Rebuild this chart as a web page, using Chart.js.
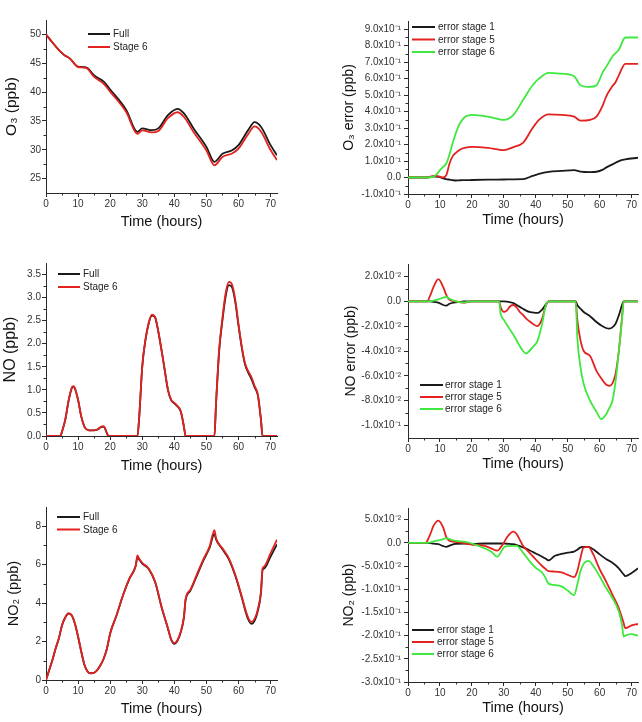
<!DOCTYPE html>
<html>
<head>
<meta charset="utf-8">
<script src="https://cdn.jsdelivr.net/npm/chart.js@4/dist/chart.umd.min.js"></script>
<style>
html,body{margin:0;padding:0;background:#fff;}
#wrap{position:relative;width:642px;height:722px;overflow:hidden;}
canvas{position:absolute;}
</style>
</head>
<body>
<div id="wrap">
<canvas id="c1" width="321" height="240" style="left:0;top:0"></canvas>
<canvas id="c2" width="321" height="240" style="left:321px;top:0"></canvas>
<canvas id="c3" width="321" height="240" style="left:0;top:240px"></canvas>
<canvas id="c4" width="321" height="240" style="left:321px;top:240px"></canvas>
<canvas id="c5" width="321" height="242" style="left:0;top:480px"></canvas>
<canvas id="c6" width="321" height="242" style="left:321px;top:480px"></canvas>
</div>
<script>
// ---------------- DATA ----------------
const xTicks = [0, 10, 20, 30, 40, 50, 60, 70];
const xTickLabels = ['0', '10', '20', '30', '40', '50', '60', '70'];

// Panel 1: O3
const o3Hours  = [0, 2, 4.5, 5.5, 7.5, 10, 12.5, 15, 18, 20, 25, 28.5, 30, 33, 35, 38, 41, 43, 46, 50, 52.5, 55, 58, 60, 63, 65, 67, 70, 72];
const o3Full   = [50, 48.6, 47.0, 46.5, 45.8, 44.4, 44.3, 42.9, 41.8, 40.45, 36.9, 33.1, 33.7, 33.4, 33.7, 36.0, 37.1, 36.3, 33.7, 30.5, 27.9, 29.3, 29.9, 30.8, 33.4, 34.8, 34.0, 30.8, 29.05];
const o3Stage6 = [50, 48.6, 47.0, 46.5, 45.8, 44.35, 44.2, 42.63, 41.43, 40.07, 36.53, 32.75, 33.35, 33.02, 33.26, 35.47, 36.5, 35.68, 33.07, 29.88, 27.3, 28.75, 29.35, 30.2, 32.69, 34.04, 33.17, 29.95, 28.2];
const o3Ticks = [25, 30, 35, 40, 45, 50];
const o3TickLabels = ['25', '30', '35', '40', '45', '50'];

// Panel 2: O3 error
const o3ErrHours = [0, 6, 8, 9, 10, 11, 12, 13, 14, 15, 16, 17, 18, 20, 25, 30, 33, 36, 39, 41, 44, 48, 52, 54, 57, 59, 61, 62, 64, 65, 66, 68, 72];
const o3ErrStage1 = [0, 0, 0.005, 0.005, 0.002, -0.005, -0.01, -0.013, -0.016, -0.018, -0.017, -0.016, -0.016, -0.015, -0.013, -0.012, -0.011, -0.01, 0.01, 0.022, 0.034, 0.04, 0.045, 0.036, 0.033, 0.035, 0.048, 0.06, 0.08, 0.09, 0.1, 0.11, 0.12];
const o3ErrStage5 = [0, 0, 0.01, 0.01, 0.005, 0, 0.014, 0.085, 0.13, 0.15, 0.165, 0.176, 0.182, 0.186, 0.18, 0.166, 0.185, 0.21, 0.3, 0.35, 0.383, 0.38, 0.37, 0.345, 0.35, 0.37, 0.44, 0.49, 0.555, 0.58, 0.62, 0.69, 0.69];
const o3ErrStage6 = [0, 0, 0.005, 0.02, 0.045, 0.065, 0.085, 0.14, 0.21, 0.27, 0.32, 0.35, 0.37, 0.38, 0.37, 0.35, 0.38, 0.47, 0.56, 0.6, 0.635, 0.63, 0.615, 0.56, 0.55, 0.56, 0.64, 0.67, 0.735, 0.755, 0.775, 0.85, 0.85];
const o3ErrTicks = [-0.1, 0, 0.1, 0.2, 0.3, 0.4, 0.5, 0.6, 0.7, 0.8, 0.9];
const o3ErrTickLabels = ['-1.0x10⁻¹', '0.0', '1.0x10⁻¹', '2.0x10⁻¹', '3.0x10⁻¹', '4.0x10⁻¹', '5.0x10⁻¹', '6.0x10⁻¹', '7.0x10⁻¹', '8.0x10⁻¹', '9.0x10⁻¹'];

// Panel 3: NO
const noHours  = [0, 4.5, 5, 6, 7, 8, 8.5, 9, 10, 11, 12, 13, 14, 16, 17.5, 18, 19, 19.5, 28.5, 29, 30, 31, 32, 33, 34, 35, 36, 37, 38, 39, 40, 41, 42, 43, 43.5, 52.5, 53, 54, 55, 56, 57, 58, 59, 60, 61, 62, 63, 64, 65, 66, 67, 67.5, 72];
const noFull   = [0, 0, 0.1, 0.35, 0.75, 1.03, 1.07, 1.03, 0.78, 0.42, 0.2, 0.13, 0.12, 0.14, 0.2, 0.2, 0.06, 0, 0, 0.35, 1.5, 2.08, 2.44, 2.61, 2.57, 2.26, 1.86, 1.43, 1.0, 0.78, 0.71, 0.64, 0.53, 0.2, 0, 0, 0.7, 1.86, 2.51, 3.03, 3.27, 3.22, 2.9, 2.39, 1.92, 1.56, 1.38, 1.24, 1.06, 0.89, 0.35, 0, 0];
const noStage6 = [0, 0, 0.1, 0.35, 0.75, 1.04, 1.08, 1.04, 0.78, 0.42, 0.2, 0.13, 0.12, 0.14, 0.21, 0.21, 0.06, 0, 0, 0.36, 1.51, 2.09, 2.45, 2.63, 2.58, 2.27, 1.87, 1.44, 1.01, 0.79, 0.72, 0.65, 0.54, 0.2, 0, 0, 0.72, 1.9, 2.56, 3.1, 3.34, 3.28, 2.95, 2.43, 1.95, 1.59, 1.41, 1.28, 1.09, 0.91, 0.36, 0, 0];
const noTicks = [0, 0.5, 1, 1.5, 2, 2.5, 3, 3.5];
const noTickLabels = ['0.0', '0.5', '1.0', '1.5', '2.0', '2.5', '3.0', '3.5'];

// Panel 4: NO error
const noErrHours = [0, 6, 7, 8, 9.5, 11, 12, 13, 15, 17, 18, 19, 20, 28.5, 29, 30, 31, 32, 33, 34, 35, 36, 37, 38, 39, 40.5, 42, 43, 44, 52.5, 53, 54, 55, 57, 59, 60.5, 62, 63, 64, 65, 66, 67, 67.5, 72];
const noErrStage1 = [0, 0, 0, -0.0005, -0.001, -0.003, -0.0035, -0.002, -0.0008, -0.0003, 0, 0, 0, 0, 0, 0, -0.0003, -0.0008, -0.0015, -0.003, -0.0045, -0.006, -0.0075, -0.0086, -0.009, -0.0094, -0.0067, -0.003, 0, 0, -0.003, -0.006, -0.0086, -0.012, -0.0167, -0.0195, -0.0215, -0.022, -0.021, -0.018, -0.0113, -0.003, 0, 0];
const noErrStage5 = [0, 0, 0.005, 0.0116, 0.0178, 0.0116, 0.005, 0.0013, 0, -0.001, -0.001, -0.0005, 0, 0, -0.0046, -0.0086, -0.0073, -0.004, -0.003, -0.005, -0.0086, -0.011, -0.014, -0.016, -0.018, -0.020, -0.014, -0.0046, 0, 0, -0.015, -0.0315, -0.04, -0.044, -0.056, -0.062, -0.067, -0.068, -0.066, -0.058, -0.04, -0.013, 0, 0];
const noErrStage6 = [0, 0, 0, 0.0005, 0.0015, 0.003, 0.0035, 0.002, 0, -0.0008, -0.0008, -0.0003, 0, 0, -0.01, -0.015, -0.019, -0.023, -0.027, -0.0315, -0.036, -0.04, -0.042, -0.04, -0.037, -0.032, -0.018, -0.0046, 0, 0, -0.029, -0.053, -0.0665, -0.08, -0.089, -0.0948, -0.091, -0.086, -0.08, -0.064, -0.04, -0.015, 0, 0];
const noErrTicks = [-0.1, -0.08, -0.06, -0.04, -0.02, 0, 0.02];
const noErrTickLabels = ['-1.0x10⁻¹', '-8.0x10⁻²', '-6.0x10⁻²', '-4.0x10⁻²', '-2.0x10⁻²', '0.0', '2.0x10⁻²'];

// Panel 5: NO2
const no2Hours  = [0, 1, 2, 3, 4, 5, 6, 7, 8, 9, 10, 11, 12, 13, 14, 15, 16, 17, 18, 19, 20, 22, 24, 26, 28, 28.5, 29, 30, 32, 34, 36, 38, 39, 40, 41, 42, 43, 43.5, 45, 47, 49, 51, 52.5, 53, 55, 57, 59, 61, 62, 63, 64, 65, 66, 67, 67.5, 68, 70, 72];
const no2Full   = [0, 0.52, 1.04, 1.64, 2.16, 2.85, 3.25, 3.46, 3.37, 2.94, 2.25, 1.47, 0.78, 0.43, 0.35, 0.38, 0.52, 0.78, 1.12, 1.64, 2.42, 3.37, 4.41, 5.27, 5.96, 6.4, 6.28, 6.06, 5.78, 5.1, 3.8, 2.68, 2.1, 1.88, 2.05, 2.48, 3.26, 4.15, 4.65, 5.42, 6.2, 6.88, 7.6, 7.32, 6.8, 6.28, 5.42, 4.3, 3.68, 3.16, 2.92, 3.08, 3.58, 4.52, 5.72, 5.8, 6.42, 7.06];
const no2Stage6 = [0, 0.52, 1.04, 1.64, 2.16, 2.85, 3.25, 3.46, 3.37, 2.94, 2.25, 1.47, 0.78, 0.43, 0.35, 0.38, 0.52, 0.78, 1.12, 1.64, 2.42, 3.37, 4.41, 5.27, 5.97, 6.48, 6.32, 6.1, 5.8, 5.12, 3.82, 2.7, 2.12, 1.92, 2.08, 2.52, 3.3, 4.2, 4.7, 5.48, 6.26, 6.95, 7.8, 7.38, 6.85, 6.33, 5.47, 4.36, 3.75, 3.25, 3.02, 3.18, 3.66, 4.6, 5.8, 5.9, 6.6, 7.3];
const no2Ticks = [0, 2, 4, 6, 8];
const no2TickLabels = ['0', '2', '4', '6', '8'];

// Panel 6: NO2 error
const no2ErrHours = [0, 5.5, 6, 7, 8, 9.5, 11, 12, 13, 15, 18, 20, 22, 24, 26, 28, 29, 30, 31, 33, 34, 36, 38, 40, 42, 43, 44, 46, 48, 50, 52, 53, 54, 55, 56.5, 58, 60, 62, 64, 66, 67, 67.5, 68, 70, 72];
const no2ErrStage1 = [0, 0, 0, -0.0005, -0.002, -0.003, -0.007, -0.0087, -0.006, -0.002, -0.0015, -0.003, -0.002, -0.0015, -0.0015, -0.0015, -0.0015, -0.0015, -0.002, -0.003, -0.005, -0.01, -0.016, -0.023, -0.03, -0.034, -0.038, -0.028, -0.024, -0.021, -0.019, -0.015, -0.01, -0.009, -0.0087, -0.014, -0.025, -0.035, -0.043, -0.055, -0.064, -0.068, -0.072, -0.065, -0.055];
const no2ErrStage5 = [0, 0, 0.004, 0.019, 0.037, 0.048, 0.033, 0.012, 0.004, 0.002, -0.0015, -0.004, -0.005, -0.0065, -0.012, -0.017, -0.01, 0.0, 0.012, 0.024, 0.019, -0.0065, -0.021, -0.036, -0.05, -0.056, -0.061, -0.062, -0.064, -0.069, -0.074, -0.061, -0.032, -0.01, -0.0087, -0.025, -0.057, -0.083, -0.112, -0.141, -0.162, -0.173, -0.184, -0.178, -0.175];
const no2ErrStage6 = [0, 0, 0, 0.001, 0.003, 0.005, 0.008, 0.01, 0.008, 0.004, 0.002, -0.0015, -0.0065, -0.012, -0.019, -0.03, -0.021, -0.01, -0.007, -0.0065, -0.0065, -0.021, -0.039, -0.054, -0.064, -0.075, -0.088, -0.091, -0.094, -0.103, -0.113, -0.09, -0.061, -0.045, -0.039, -0.05, -0.072, -0.097, -0.119, -0.148, -0.177, -0.202, -0.2, -0.197, -0.2];
const no2ErrTicks = [-0.3, -0.25, -0.2, -0.15, -0.1, -0.05, 0, 0.05];
const no2ErrTickLabels = ['-3.0x10⁻¹', '-2.5x10⁻¹', '-2.0x10⁻¹', '-1.5x10⁻¹', '-1.0x10⁻¹', '-5.0x10⁻²', '0.0', '5.0x10⁻²'];

// ---------------- STYLE ----------------
const FONT = "'Liberation Sans', Arial, Helvetica, sans-serif";
const AXIS = '#2a2a2a';
const BLACK = '#1a1a1a', RED = '#e3211e', GREEN = '#3ee83e';
Chart.defaults.font.family = FONT;
Chart.defaults.color = '#2a2a2a';
Chart.defaults.animation = false;

const pairs = (xs, ys) => xs.map((x, i) => ({x: x, y: ys[i]}));

const minorTicksPlugin = {
  id: 'minorTicks',
  afterDraw(chart, args, opts) {
    const ctx = chart.ctx, xs = chart.scales.x, ys = chart.scales.y;
    ctx.save();
    ctx.strokeStyle = AXIS; ctx.lineWidth = 1;
    (opts.x || []).forEach(v => {
      const px = Math.round(xs.getPixelForValue(v)) + 0.5;
      ctx.beginPath(); ctx.moveTo(px, xs.top); ctx.lineTo(px, xs.top + 2.5); ctx.stroke();
    });
    (opts.y || []).forEach(v => {
      const py = Math.round(ys.getPixelForValue(v)) + 0.5;
      ctx.beginPath(); ctx.moveTo(ys.right, py); ctx.lineTo(ys.right - 2.5, py); ctx.stroke();
    });
    ctx.restore();
  }
};

const legendPlugin = {
  id: 'innerLegend',
  afterDraw(chart, args, opts) {
    const ctx = chart.ctx;
    ctx.save();
    ctx.font = '10px ' + FONT;
    ctx.textBaseline = 'middle';
    ctx.fillStyle = '#222';
    chart.data.datasets.forEach((ds, i) => {
      const y = opts.y + i * opts.dy;
      ctx.strokeStyle = ds.borderColor; ctx.lineWidth = 2;
      ctx.beginPath(); ctx.moveTo(opts.x0, y); ctx.lineTo(opts.x1, y); ctx.stroke();
      ctx.fillText(ds.label, opts.tx, y + 0.5);
    });
    ctx.restore();
  }
};

function makeChart(id, p) {
  const datasets = p.series.map((s, i) => ({
    label: s.label,
    data: pairs(p.hours, s.data),
    borderColor: s.color,
    borderWidth: 1.8,
    pointRadius: 0,
    fill: false,
    cubicInterpolationMode: 'monotone',
    order: p.series.length - 1 - i
  }));
  return new Chart(document.getElementById(id), {
    type: 'line',
    data: {datasets},
    plugins: [minorTicksPlugin, legendPlugin],
    options: {
      responsive: false,
      animation: false,
      layout: {padding: {left: 0, right: p.padR, top: p.padT, bottom: 0}},
      plugins: {
        legend: {display: false},
        tooltip: {enabled: false},
        minorTicks: {x: [5, 15, 25, 35, 45, 55, 65], y: p.yMinor},
        innerLegend: p.legend
      },
      scales: {
        x: {
          type: 'linear', min: 0, max: 72,
          afterBuildTicks: s => { s.ticks = xTicks.map(v => ({value: v})); },
          afterFit: s => { s.height = p.xH; },
          ticks: {autoSkip: false, maxRotation: 0, padding: 1, font: {size: 10}, color: '#333',
                  callback: (v, i) => xTickLabels[i]},
          grid: {drawOnChartArea: false, drawTicks: true, tickLength: 4, color: AXIS, tickColor: AXIS},
          border: {display: true, color: AXIS, width: 1},
          title: {display: true, text: 'Time (hours)', font: {size: 14.5}, color: '#111',
                  padding: {top: 0, bottom: p.xTitlePad}}
        },
        y: {
          type: 'linear', min: p.yMin, max: p.yMax,
          afterBuildTicks: s => { s.ticks = p.yTicks.map(v => ({value: v})); },
          afterFit: s => { s.width = p.yW; },
          ticks: {autoSkip: false, padding: p.yTickPad, font: {size: 10}, color: '#333',
                  callback: (v, i) => p.yTickLabels[i]},
          grid: {drawOnChartArea: false, drawTicks: true, tickLength: 4, color: AXIS, tickColor: AXIS},
          border: {display: true, color: AXIS, width: 1},
          title: {display: true, text: p.yTitle, font: {size: p.yTitleSize}, color: '#111',
                  padding: {top: p.yTitlePad, bottom: 0}}
        }
      }
    }
  });
}

makeChart('c1', {
  hours: o3Hours,
  series: [{label: 'Full', data: o3Full, color: BLACK}, {label: 'Stage 6', data: o3Stage6, color: RED}],
  yMin: 22.5, yMax: 52.5, yTicks: o3Ticks, yTickLabels: o3TickLabels, yMinor: [27.5, 32.5, 37.5, 42.5, 47.5],
  yTitle: 'O₃ (ppb)', yTitleSize: 15.5, yW: 46, padR: 44, padT: 20, xH: 47, xTitlePad: 9, yTitlePad: 2, yTickPad: 1,
  legend: {x0: 88, x1: 110, tx: 113, y: 34, dy: 13}
});

makeChart('c2', {
  hours: o3ErrHours,
  series: [{label: 'error stage 1', data: o3ErrStage1, color: BLACK},
           {label: 'error stage 5', data: o3ErrStage5, color: RED},
           {label: 'error stage 6', data: o3ErrStage6, color: GREEN}],
  yMin: -0.1, yMax: 0.95, yTicks: o3ErrTicks, yTickLabels: o3ErrTickLabels,
  yMinor: [-0.05, 0.05, 0.15, 0.25, 0.35, 0.45, 0.55, 0.65, 0.75, 0.85],
  yTitle: 'O₃ error (ppb)', yTitleSize: 14, yW: 87, padR: 4, padT: 21, xH: 46, xTitlePad: 11, yTitlePad: 20, yTickPad: 3,
  legend: {x0: 91, x1: 114, tx: 117, y: 27, dy: 12.5}
});

makeChart('c3', {
  hours: noHours,
  series: [{label: 'Full', data: noFull, color: BLACK}, {label: 'Stage 6', data: noStage6, color: RED}],
  yMin: 0, yMax: 3.75, yTicks: noTicks, yTickLabels: noTickLabels,
  yMinor: [0.25, 0.75, 1.25, 1.75, 2.25, 2.75, 3.25],
  yTitle: 'NO (ppb)', yTitleSize: 16, yW: 46, padR: 44, padT: 23, xH: 44, xTitlePad: 5, yTitlePad: 1, yTickPad: 1,
  legend: {x0: 58, x1: 80, tx: 83, y: 34, dy: 13}
});

makeChart('c4', {
  hours: noErrHours,
  series: [{label: 'error stage 1', data: noErrStage1, color: BLACK},
           {label: 'error stage 5', data: noErrStage5, color: RED},
           {label: 'error stage 6', data: noErrStage6, color: GREEN}],
  yMin: -0.11, yMax: 0.03, yTicks: noErrTicks, yTickLabels: noErrTickLabels,
  yMinor: [-0.09, -0.07, -0.05, -0.03, -0.01, 0.01],
  yTitle: 'NO error (ppb)', yTitleSize: 14, yW: 87, padR: 4, padT: 24, xH: 42, xTitlePad: 7, yTitlePad: 22, yTickPad: 3,
  legend: {x0: 99, x1: 122, tx: 124, y: 145, dy: 12}
});

makeChart('c5', {
  hours: no2Hours,
  series: [{label: 'Full', data: no2Full, color: BLACK}, {label: 'Stage 6', data: no2Stage6, color: RED}],
  yMin: 0, yMax: 9, yTicks: no2Ticks, yTickLabels: no2TickLabels, yMinor: [1, 3, 5, 7],
  yTitle: 'NO₂ (ppb)', yTitleSize: 14.5, yW: 46, padR: 44, padT: 27, xH: 42, xTitlePad: 4, yTitlePad: 5, yTickPad: 1,
  legend: {x0: 57, x1: 80, tx: 83, y: 37, dy: 12.5}
});

makeChart('c6', {
  hours: no2ErrHours,
  series: [{label: 'error stage 1', data: no2ErrStage1, color: BLACK},
           {label: 'error stage 5', data: no2ErrStage5, color: RED},
           {label: 'error stage 6', data: no2ErrStage6, color: GREEN}],
  yMin: -0.3, yMax: 0.075, yTicks: no2ErrTicks, yTickLabels: no2ErrTickLabels,
  yMinor: [-0.275, -0.225, -0.175, -0.125, -0.075, -0.025, 0.025],
  yTitle: 'NO₂ (ppb)', yTitleSize: 14, yW: 87, padR: 4, padT: 28, xH: 40, xTitlePad: 5, yTitlePad: 20, yTickPad: 3,
  legend: {x0: 91, x1: 113, tx: 116, y: 150, dy: 12}
});
</script>
</body>
</html>
